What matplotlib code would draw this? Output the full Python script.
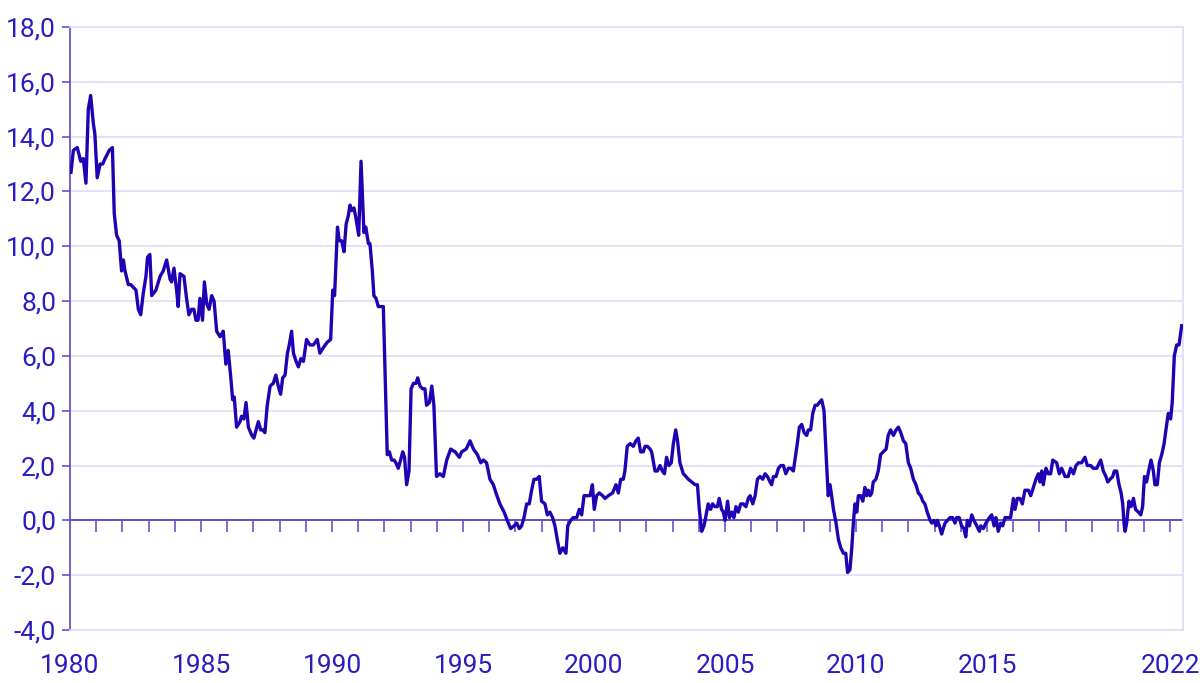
import matplotlib
matplotlib.use("Agg")
import matplotlib.pyplot as plt
from matplotlib.ticker import FuncFormatter

# decimal year of each reading and the yearly change in percent
years = [
    1980.04, 1980.13, 1980.28, 1980.41, 1980.51, 1980.61, 1980.70, 1980.79, 1980.89, 1980.95,
    1981.04, 1981.15, 1981.25, 1981.34, 1981.50, 1981.62, 1981.69, 1981.78, 1981.88, 1981.97,
    1982.04, 1982.10, 1982.23, 1982.32, 1982.42, 1982.52, 1982.61, 1982.70, 1982.80, 1982.90,
    1982.96, 1983.05, 1983.12, 1983.28, 1983.44, 1983.56, 1983.69, 1983.82, 1983.88, 1983.97,
    1984.07, 1984.13, 1984.20, 1984.35, 1984.45, 1984.54, 1984.64, 1984.73, 1984.81, 1984.89,
    1984.96, 1985.06, 1985.13, 1985.22, 1985.31, 1985.41, 1985.50, 1985.60, 1985.73, 1985.85,
    1985.95, 1986.04, 1986.13, 1986.21, 1986.27, 1986.36, 1986.49, 1986.55, 1986.64, 1986.72,
    1986.81, 1986.94, 1987.02, 1987.19, 1987.28, 1987.36, 1987.44, 1987.53, 1987.64, 1987.76,
    1987.86, 1987.95, 1988.04, 1988.12, 1988.21, 1988.30, 1988.37, 1988.46, 1988.53, 1988.63,
    1988.72, 1988.81, 1988.91, 1988.97, 1989.03, 1989.16, 1989.29, 1989.44, 1989.54, 1989.67,
    1989.82, 1989.95, 1990.03, 1990.10, 1990.21, 1990.28, 1990.37, 1990.46, 1990.54, 1990.62,
    1990.69, 1990.75, 1990.84, 1990.92, 1991.02, 1991.11, 1991.17, 1991.22, 1991.29, 1991.39,
    1991.45, 1991.54, 1991.60, 1991.68, 1991.77, 1991.86, 1991.96, 1992.02, 1992.11, 1992.19,
    1992.28, 1992.37, 1992.44, 1992.53, 1992.62, 1992.70, 1992.77, 1992.85, 1992.94, 1993.02,
    1993.11, 1993.21, 1993.27, 1993.36, 1993.46, 1993.55, 1993.61, 1993.72, 1993.81, 1993.89,
    1993.99, 1994.12, 1994.25, 1994.38, 1994.53, 1994.70, 1994.86, 1994.95, 1995.12, 1995.27,
    1995.40, 1995.55, 1995.68, 1995.78, 1995.90, 1996.03, 1996.16, 1996.26, 1996.41, 1996.57,
    1996.69, 1996.82, 1996.95, 1997.05, 1997.15, 1997.24, 1997.33, 1997.43, 1997.53, 1997.62,
    1997.71, 1997.81, 1997.91, 1998.00, 1998.13, 1998.22, 1998.32, 1998.42, 1998.51, 1998.60,
    1998.70, 1998.81, 1998.93, 1999.00, 1999.11, 1999.21, 1999.34, 1999.44, 1999.53, 1999.62,
    1999.72, 1999.85, 1999.94, 2000.01, 2000.10, 2000.20, 2000.33, 2000.42, 2000.55, 2000.71,
    2000.84, 2000.93, 2001.02, 2001.12, 2001.18, 2001.27, 2001.38, 2001.50, 2001.60, 2001.69,
    2001.78, 2001.88, 2001.95, 2002.04, 2002.14, 2002.20, 2002.33, 2002.42, 2002.52, 2002.61,
    2002.69, 2002.77, 2002.86, 2002.95, 2003.03, 2003.12, 2003.19, 2003.28, 2003.41, 2003.51,
    2003.60, 2003.73, 2003.86, 2003.95, 2004.02, 2004.11, 2004.20, 2004.30, 2004.36, 2004.45,
    2004.53, 2004.62, 2004.71, 2004.78, 2004.87, 2004.94, 2005.00, 2005.10, 2005.17, 2005.26,
    2005.34, 2005.42, 2005.51, 2005.60, 2005.70, 2005.80, 2005.89, 2005.96, 2006.06, 2006.15,
    2006.24, 2006.34, 2006.44, 2006.53, 2006.62, 2006.72, 2006.78, 2006.85, 2006.95, 2007.04,
    2007.13, 2007.23, 2007.32, 2007.42, 2007.51, 2007.61, 2007.67, 2007.76, 2007.84, 2007.93,
    2008.02, 2008.12, 2008.18, 2008.27, 2008.35, 2008.44, 2008.52, 2008.60, 2008.69, 2008.78,
    2008.86, 2008.94, 2009.01, 2009.07, 2009.14, 2009.24, 2009.33, 2009.42, 2009.52, 2009.61,
    2009.68, 2009.77, 2009.84, 2009.90, 2009.96, 2010.03, 2010.09, 2010.18, 2010.26, 2010.34,
    2010.41, 2010.47, 2010.54, 2010.60, 2010.66, 2010.76, 2010.85, 2010.94, 2011.04, 2011.15,
    2011.23, 2011.32, 2011.43, 2011.53, 2011.62, 2011.71, 2011.81, 2011.90, 2012.00, 2012.09,
    2012.19, 2012.29, 2012.38, 2012.47, 2012.55, 2012.63, 2012.72, 2012.83, 2012.89, 2012.98,
    2013.05, 2013.11, 2013.18, 2013.27, 2013.33, 2013.40, 2013.49, 2013.59, 2013.69, 2013.78,
    2013.84, 2013.94, 2014.03, 2014.12, 2014.19, 2014.25, 2014.33, 2014.42, 2014.50, 2014.61,
    2014.71, 2014.76, 2014.86, 2014.96, 2015.09, 2015.18, 2015.27, 2015.34, 2015.43, 2015.52,
    2015.60, 2015.69, 2015.81, 2015.90, 2016.01, 2016.07, 2016.16, 2016.26, 2016.35, 2016.45,
    2016.58, 2016.67, 2016.77, 2016.87, 2016.96, 2017.02, 2017.09, 2017.15, 2017.25, 2017.34,
    2017.43, 2017.51, 2017.66, 2017.76, 2017.85, 2017.98, 2018.10, 2018.19, 2018.30, 2018.40,
    2018.49, 2018.61, 2018.74, 2018.83, 2018.96, 2019.06, 2019.19, 2019.34, 2019.44, 2019.54,
    2019.61, 2019.70, 2019.80, 2019.86, 2019.95, 2020.04, 2020.12, 2020.18, 2020.23, 2020.27,
    2020.33, 2020.42, 2020.50, 2020.59, 2020.67, 2020.78, 2020.87, 2020.94, 2021.01, 2021.09,
    2021.17, 2021.26, 2021.35, 2021.41, 2021.50, 2021.58, 2021.67, 2021.76, 2021.83, 2021.92,
    2022.01, 2022.07, 2022.15, 2022.24, 2022.33, 2022.43,
]
change = [
    12.7, 13.5, 13.6, 13.1, 13.2, 12.3, 15.0, 15.5, 14.5, 14.1,
    12.5, 13.0, 13.0, 13.2, 13.5, 13.6, 11.2, 10.4, 10.2, 9.1,
    9.5, 9.1, 8.6, 8.6, 8.5, 8.4, 7.7, 7.5, 8.3, 8.9,
    9.6, 9.7, 8.2, 8.4, 8.9, 9.1, 9.5, 8.8, 8.7, 9.2,
    8.4, 7.8, 9.0, 8.9, 8.1, 7.5, 7.7, 7.7, 7.3, 7.3,
    8.1, 7.3, 8.7, 7.9, 7.7, 8.2, 8.0, 6.9, 6.7, 6.9,
    5.7, 6.2, 5.3, 4.4, 4.5, 3.4, 3.6, 3.8, 3.7, 4.3,
    3.4, 3.1, 3.0, 3.6, 3.3, 3.3, 3.2, 4.2, 4.9, 5.0,
    5.3, 4.9, 4.6, 5.2, 5.3, 6.1, 6.4, 6.9, 6.1, 5.8,
    5.6, 5.9, 5.8, 6.2, 6.6, 6.4, 6.4, 6.6, 6.1, 6.3,
    6.5, 6.6, 8.4, 8.2, 10.7, 10.2, 10.2, 9.8, 10.8, 11.1,
    11.5, 11.3, 11.4, 11.0, 10.4, 13.1, 11.7, 10.5, 10.7, 10.1,
    10.1, 9.1, 8.2, 8.1, 7.8, 7.8, 7.8, 5.6, 2.4, 2.5,
    2.2, 2.2, 2.1, 1.9, 2.2, 2.5, 2.3, 1.3, 1.8, 4.8,
    5.0, 5.0, 5.2, 4.9, 4.8, 4.8, 4.2, 4.3, 4.9, 4.2,
    1.6, 1.7, 1.6, 2.2, 2.6, 2.5, 2.3, 2.5, 2.6, 2.9,
    2.6, 2.4, 2.1, 2.2, 2.1, 1.5, 1.3, 1.0, 0.6, 0.3,
    0.0, -0.3, -0.2, -0.1, -0.3, -0.2, 0.1, 0.6, 0.6, 1.1,
    1.5, 1.5, 1.6, 0.7, 0.6, 0.2, 0.3, 0.1, -0.2, -0.7,
    -1.2, -1.0, -1.2, -0.2, 0.0, 0.1, 0.1, 0.4, 0.2, 0.9,
    0.9, 0.9, 1.3, 0.4, 0.9, 1.0, 0.9, 0.8, 0.9, 1.0,
    1.3, 1.0, 1.5, 1.5, 1.8, 2.7, 2.8, 2.7, 2.9, 3.0,
    2.5, 2.5, 2.7, 2.7, 2.6, 2.5, 1.8, 1.8, 2.0, 1.8,
    1.7, 2.3, 2.0, 2.1, 2.8, 3.3, 2.9, 2.1, 1.7, 1.6,
    1.5, 1.4, 1.3, 1.3, 0.4, -0.4, -0.2, 0.3, 0.6, 0.4,
    0.6, 0.5, 0.5, 0.8, 0.4, 0.3, 0.0, 0.7, 0.1, 0.3,
    0.1, 0.5, 0.3, 0.6, 0.6, 0.5, 0.8, 0.9, 0.6, 0.9,
    1.5, 1.6, 1.5, 1.7, 1.6, 1.4, 1.3, 1.6, 1.6, 1.9,
    2.0, 2.0, 1.7, 1.9, 1.9, 1.8, 2.2, 2.8, 3.4, 3.5,
    3.2, 3.1, 3.3, 3.3, 3.9, 4.2, 4.2, 4.3, 4.4, 4.0,
    2.4, 0.9, 1.3, 0.9, 0.4, -0.1, -0.7, -1.0, -1.2, -1.2,
    -1.9, -1.8, -1.0, -0.1, 0.6, 0.3, 0.9, 0.9, 0.7, 1.2,
    0.9, 1.1, 0.9, 1.0, 1.4, 1.5, 1.8, 2.4, 2.5, 2.6,
    3.1, 3.3, 3.1, 3.3, 3.4, 3.2, 2.9, 2.8, 2.1, 1.9,
    1.5, 1.3, 1.0, 0.9, 0.7, 0.6, 0.3, 0.0, -0.1, 0.0,
    -0.2, 0.0, -0.2, -0.5, -0.3, -0.1, 0.0, 0.1, 0.1, -0.1,
    0.1, 0.1, -0.2, -0.3, -0.6, 0.0, -0.2, 0.2, 0.0, -0.2,
    -0.4, -0.2, -0.3, -0.1, 0.1, 0.2, -0.2, 0.1, -0.4, -0.1,
    -0.2, 0.1, 0.1, 0.1, 0.8, 0.4, 0.8, 0.8, 0.6, 1.1,
    1.1, 0.9, 1.2, 1.5, 1.7, 1.4, 1.8, 1.3, 1.9, 1.7,
    1.7, 2.2, 2.1, 1.7, 1.9, 1.6, 1.6, 1.9, 1.7, 2.0,
    2.1, 2.1, 2.3, 2.0, 2.0, 1.9, 1.9, 2.2, 1.8, 1.6,
    1.4, 1.5, 1.6, 1.8, 1.8, 1.3, 1.0, 0.6, -0.1, -0.4,
    -0.1, 0.7, 0.5, 0.8, 0.4, 0.3, 0.2, 0.5, 1.6, 1.4,
    1.8, 2.2, 1.8, 1.3, 1.3, 2.1, 2.4, 2.8, 3.3, 3.9,
    3.7, 4.3, 6.0, 6.4, 6.4, 7.1,
]

label_years = [1980, 1985, 1990, 1995, 2000, 2005, 2010, 2015, 2022]
y_ticks = list(range(-4, 20, 2))

line_col = "#2200b4"
text_col = "#2a1cc4"
axis_col = "#5447cc"
grid_col = "#dedbf6"

plt.rcParams["font.family"] = ["Roboto", "DejaVu Sans"]

fig = plt.figure(figsize=(12, 6.83), dpi=100)
ax = fig.add_axes([0.0583, 0.0776, 0.9275, 0.8829])

ax.plot(years, change, color=line_col, lw=2.4, solid_joinstyle="round", zorder=3)
ax.axhline(0, color=axis_col, lw=1.3, zorder=2)

ax.set_xlim(1980, 2022.48)
ax.set_ylim(-4, 18)
ax.set_yticks(y_ticks)
ax.yaxis.set_major_formatter(FuncFormatter(lambda v, p: f"{v:.1f}".replace(".", ",")))
ax.set_xticks(label_years)
ax.set_xticklabels([str(y) for y in label_years])

ax.grid(axis="y", color=grid_col, lw=1.2, zorder=0)
ax.tick_params(axis="y", direction="out", length=6, width=1.1, color=axis_col,
               labelcolor=text_col, labelsize=19, pad=4)
ax.tick_params(axis="x", length=0, labelcolor=text_col, labelsize=19, pad=17)

for side in ["top", "bottom", "right"]:
    ax.spines[side].set_color(grid_col)
    ax.spines[side].set_linewidth(1.2)
ax.spines["left"].set_color(axis_col)
ax.spines["left"].set_linewidth(1.2)

# a tick for every year, hanging below the zero line
zero_axis = ax.secondary_xaxis(4 / 22)
zero_axis.set_xticks(range(1981, 2023))
zero_axis.tick_params(axis="x", direction="out", length=8.5, width=1.1, color=axis_col,
                      labelbottom=False)
zero_axis.spines["bottom"].set_visible(False)
zero_axis.spines["top"].set_visible(False)

fig.savefig("out.png", dpi=100)
